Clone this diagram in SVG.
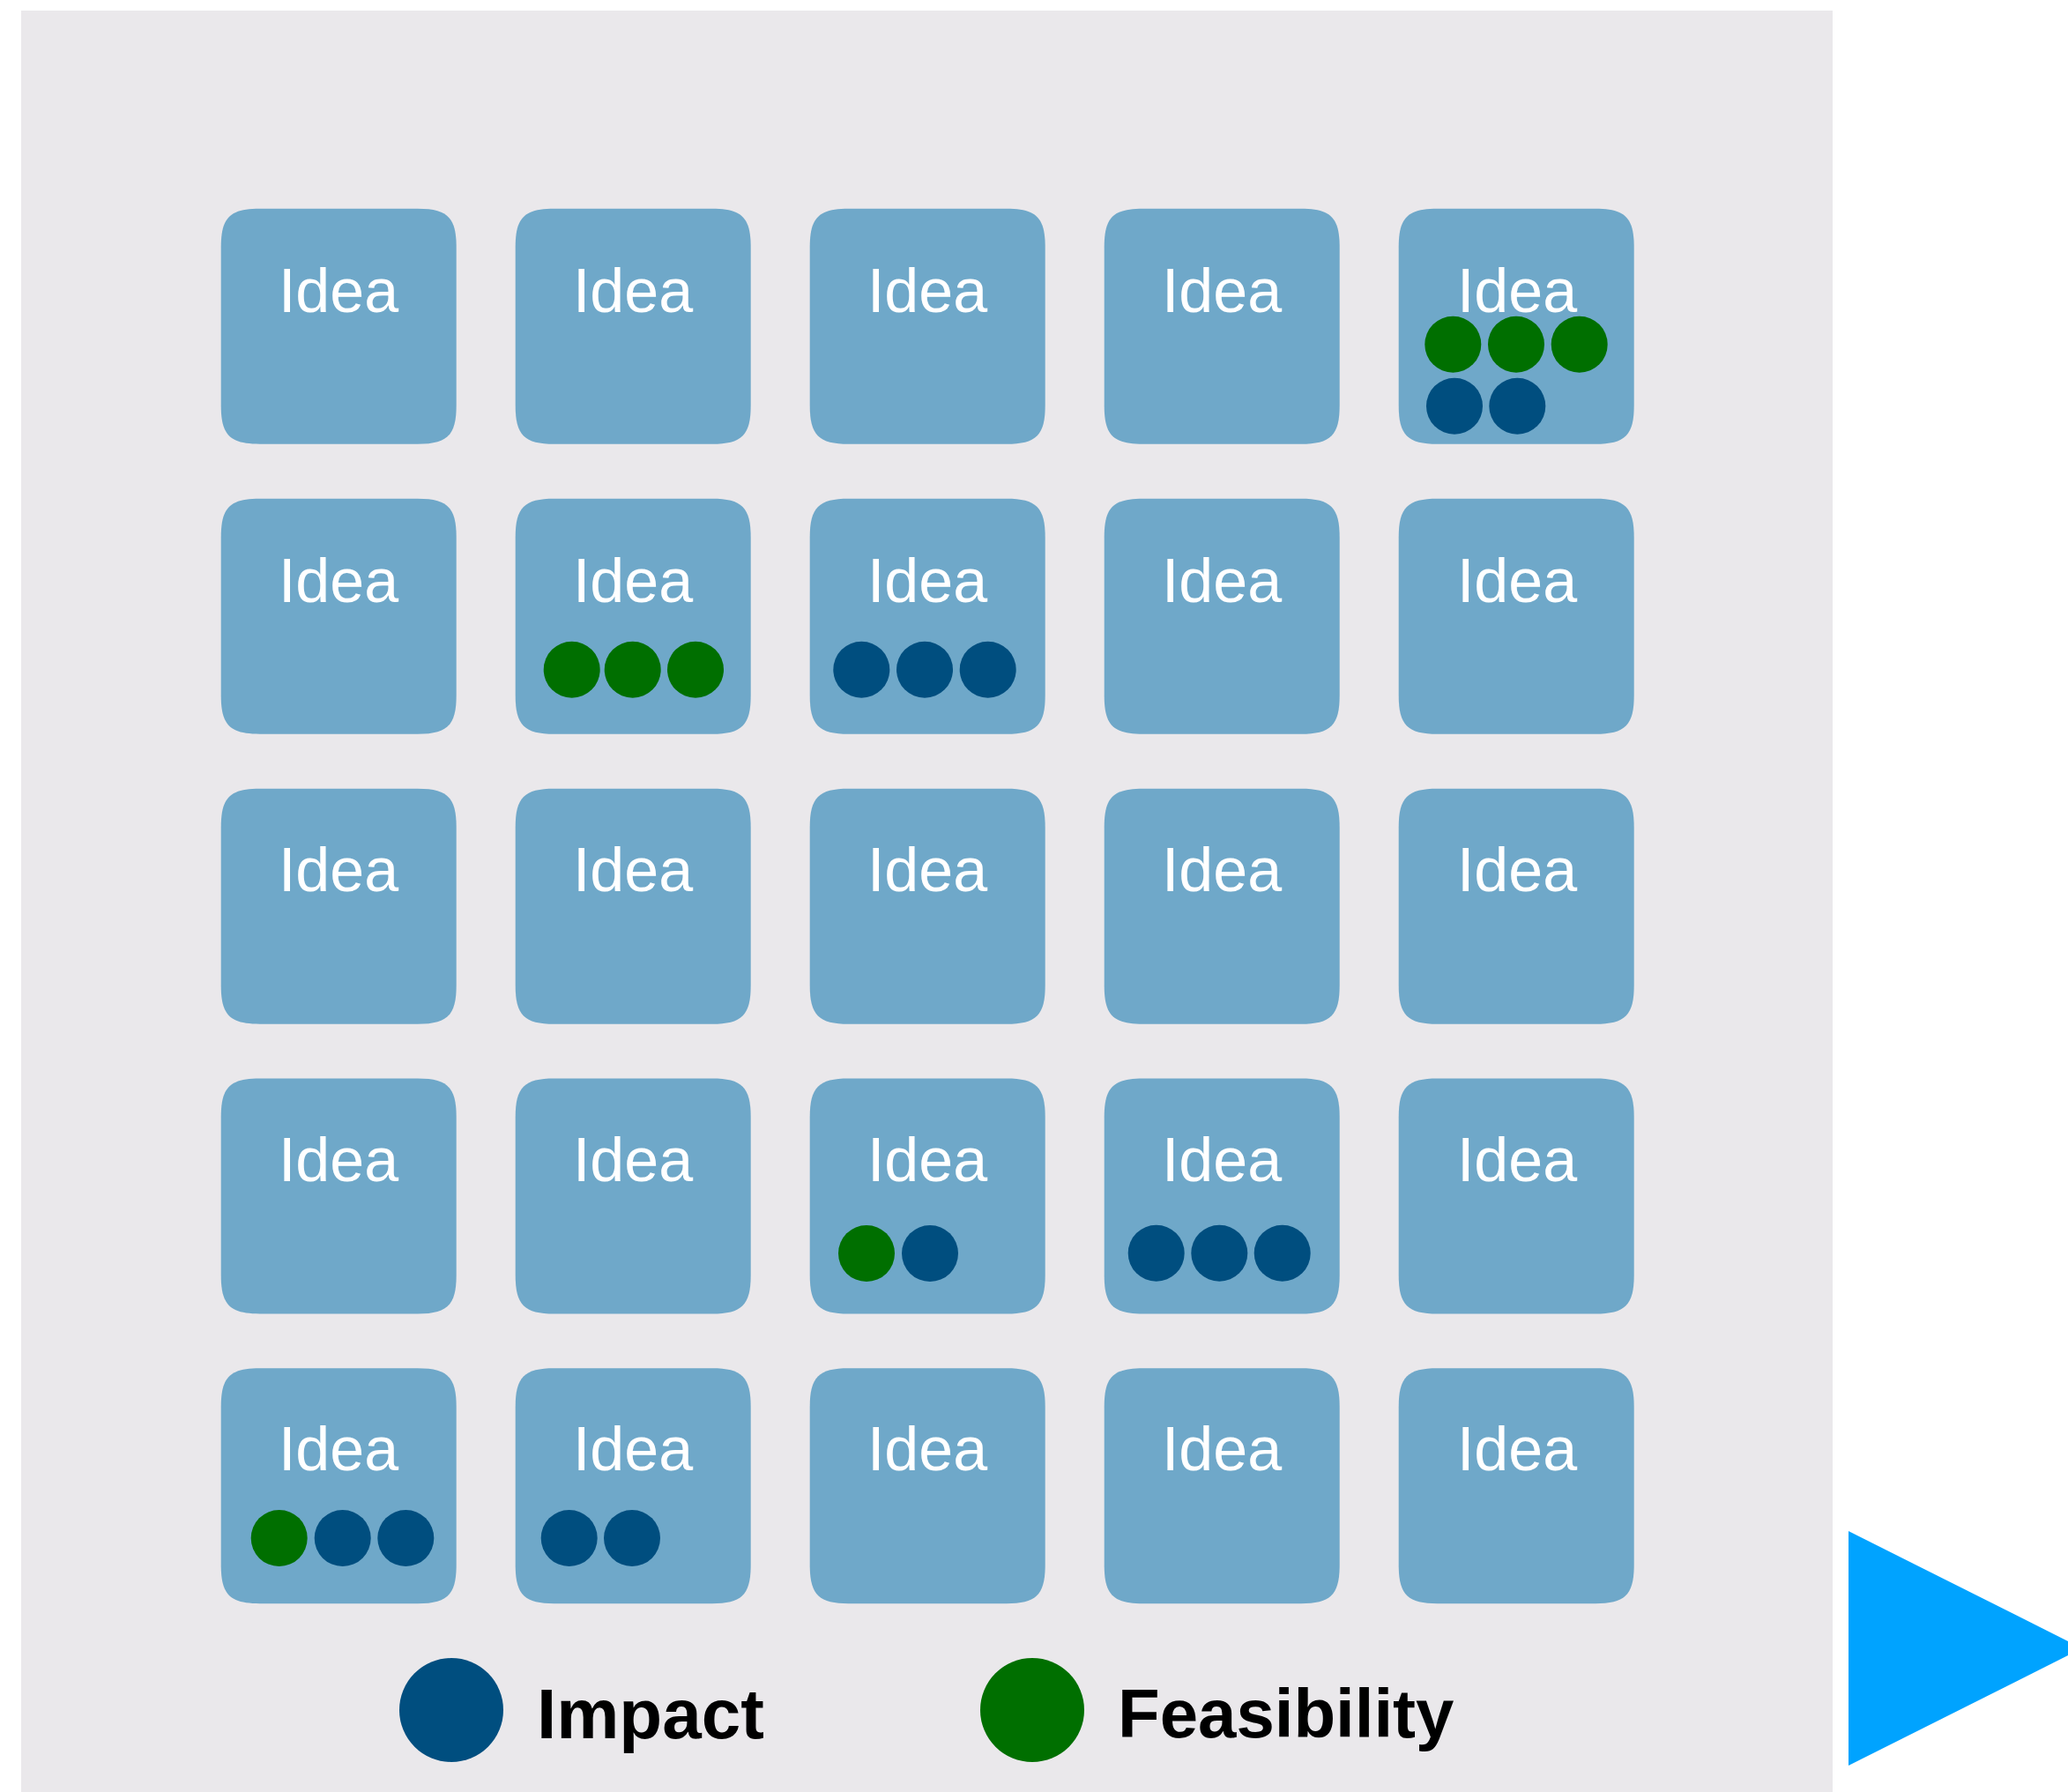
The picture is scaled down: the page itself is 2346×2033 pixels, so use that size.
<svg xmlns="http://www.w3.org/2000/svg" xmlns:xlink="http://www.w3.org/1999/xlink" width="2346" height="2033" viewBox="0 0 2346 2033">
  <style>
    .panel { fill: #EAE8EB; }
    .card { fill: #6FA8C9; }
    .label { font-family: "Liberation Sans", Arial, Helvetica, sans-serif; font-size: 70px; fill: #FFFFFF; text-anchor: middle; }
    .legend { font-family: "Liberation Sans", Arial, Helvetica, sans-serif; font-size: 80px; font-weight: bold; fill: #000000; }
    .impact { fill: #004E7F; }
    .feas { fill: #006F00; }
    .play { fill: #00A3FF; }
  </style>
  <defs>
    <!-- card shape with smooth continuous corners, 267 x 267 -->
    <path id="cardShape" d="M44,0 H223 C257,0 267,10 267,44 V223 C267,257 257,267 223,267 H44 C10,267 0,257 0,223 V44 C0,10 10,0 44,0 Z"/>
  </defs>

  <!-- board -->
  <rect class="panel" x="24" y="12" width="2055" height="2030"/>

  <!-- row 1 -->
  <g id="idea-r1c1"><use xlink:href="#cardShape" href="#cardShape" class="card" x="250.7" y="236.7"/><text class="label" x="384" y="353.5">Idea</text></g>
  <g id="idea-r1c2"><use xlink:href="#cardShape" href="#cardShape" class="card" x="584.7" y="236.7"/><text class="label" x="718" y="353.5">Idea</text></g>
  <g id="idea-r1c3"><use xlink:href="#cardShape" href="#cardShape" class="card" x="918.7" y="236.7"/><text class="label" x="1052" y="353.5">Idea</text></g>
  <g id="idea-r1c4"><use xlink:href="#cardShape" href="#cardShape" class="card" x="1252.7" y="236.7"/><text class="label" x="1386" y="353.5">Idea</text></g>
  <g id="idea-r1c5"><use xlink:href="#cardShape" href="#cardShape" class="card" x="1586.7" y="236.7"/><text class="label" x="1721" y="353.5">Idea</text>
    <circle class="feas" cx="1648.3" cy="390.7" r="32"/>
    <circle class="feas" cx="1720" cy="390.7" r="32"/>
    <circle class="feas" cx="1791.7" cy="390.7" r="32"/>
    <circle class="impact" cx="1650" cy="460.7" r="32"/>
    <circle class="impact" cx="1721.3" cy="460.7" r="32"/>
  </g>

  <!-- row 2 -->
  <g id="idea-r2c1"><use xlink:href="#cardShape" href="#cardShape" class="card" x="250.7" y="565.7"/><text class="label" x="384" y="683">Idea</text></g>
  <g id="idea-r2c2"><use xlink:href="#cardShape" href="#cardShape" class="card" x="584.7" y="565.7"/><text class="label" x="718" y="683">Idea</text>
    <circle class="feas" cx="648.7" cy="759.7" r="32"/>
    <circle class="feas" cx="717.7" cy="759.7" r="32"/>
    <circle class="feas" cx="789" cy="759.7" r="32"/>
  </g>
  <g id="idea-r2c3"><use xlink:href="#cardShape" href="#cardShape" class="card" x="918.7" y="565.7"/><text class="label" x="1052" y="683">Idea</text>
    <circle class="impact" cx="977.3" cy="759.7" r="32"/>
    <circle class="impact" cx="1049" cy="759.7" r="32"/>
    <circle class="impact" cx="1120.7" cy="759.7" r="32"/>
  </g>
  <g id="idea-r2c4"><use xlink:href="#cardShape" href="#cardShape" class="card" x="1252.7" y="565.7"/><text class="label" x="1386" y="683">Idea</text></g>
  <g id="idea-r2c5"><use xlink:href="#cardShape" href="#cardShape" class="card" x="1586.7" y="565.7"/><text class="label" x="1721" y="683">Idea</text></g>

  <!-- row 3 -->
  <g id="idea-r3c1"><use xlink:href="#cardShape" href="#cardShape" class="card" x="250.7" y="894.7"/><text class="label" x="384" y="1011">Idea</text></g>
  <g id="idea-r3c2"><use xlink:href="#cardShape" href="#cardShape" class="card" x="584.7" y="894.7"/><text class="label" x="718" y="1011">Idea</text></g>
  <g id="idea-r3c3"><use xlink:href="#cardShape" href="#cardShape" class="card" x="918.7" y="894.7"/><text class="label" x="1052" y="1011">Idea</text></g>
  <g id="idea-r3c4"><use xlink:href="#cardShape" href="#cardShape" class="card" x="1252.7" y="894.7"/><text class="label" x="1386" y="1011">Idea</text></g>
  <g id="idea-r3c5"><use xlink:href="#cardShape" href="#cardShape" class="card" x="1586.7" y="894.7"/><text class="label" x="1721" y="1011">Idea</text></g>

  <!-- row 4 -->
  <g id="idea-r4c1"><use xlink:href="#cardShape" href="#cardShape" class="card" x="250.7" y="1223.5"/><text class="label" x="384" y="1340">Idea</text></g>
  <g id="idea-r4c2"><use xlink:href="#cardShape" href="#cardShape" class="card" x="584.7" y="1223.5"/><text class="label" x="718" y="1340">Idea</text></g>
  <g id="idea-r4c3"><use xlink:href="#cardShape" href="#cardShape" class="card" x="918.7" y="1223.5"/><text class="label" x="1052" y="1340">Idea</text>
    <circle class="feas" cx="983" cy="1422" r="32"/>
    <circle class="impact" cx="1055" cy="1422" r="32"/>
  </g>
  <g id="idea-r4c4"><use xlink:href="#cardShape" href="#cardShape" class="card" x="1252.7" y="1223.5"/><text class="label" x="1386" y="1340">Idea</text>
    <circle class="impact" cx="1311.7" cy="1421.7" r="32"/>
    <circle class="impact" cx="1383.3" cy="1421.7" r="32"/>
    <circle class="impact" cx="1454.7" cy="1421.7" r="32"/>
  </g>
  <g id="idea-r4c5"><use xlink:href="#cardShape" href="#cardShape" class="card" x="1586.7" y="1223.5"/><text class="label" x="1721" y="1340">Idea</text></g>

  <!-- row 5 -->
  <g id="idea-r5c1"><use xlink:href="#cardShape" href="#cardShape" class="card" x="250.7" y="1552.2"/><text class="label" x="384" y="1667.5">Idea</text>
    <circle class="feas" cx="316.7" cy="1745" r="32"/>
    <circle class="impact" cx="388.7" cy="1745" r="32"/>
    <circle class="impact" cx="460.3" cy="1745" r="32"/>
  </g>
  <g id="idea-r5c2"><use xlink:href="#cardShape" href="#cardShape" class="card" x="584.7" y="1552.2"/><text class="label" x="718" y="1667.5">Idea</text>
    <circle class="impact" cx="645.7" cy="1745" r="32"/>
    <circle class="impact" cx="717" cy="1745" r="32"/>
  </g>
  <g id="idea-r5c3"><use xlink:href="#cardShape" href="#cardShape" class="card" x="918.7" y="1552.2"/><text class="label" x="1052" y="1667.5">Idea</text></g>
  <g id="idea-r5c4"><use xlink:href="#cardShape" href="#cardShape" class="card" x="1252.7" y="1552.2"/><text class="label" x="1386" y="1667.5">Idea</text></g>
  <g id="idea-r5c5"><use xlink:href="#cardShape" href="#cardShape" class="card" x="1586.7" y="1552.2"/><text class="label" x="1721" y="1667.5">Idea</text></g>

  <!-- legend -->
  <g id="legend-impact">
    <circle class="impact" cx="512" cy="1940" r="59"/>
    <text class="legend" x="609" y="1972">Impact</text>
  </g>
  <g id="legend-feasibility">
    <circle class="feas" cx="1171" cy="1940" r="59"/>
    <text class="legend" x="1268" y="1971" style="font-size:78px">Feasibility</text>
  </g>

  <!-- no connectors between cards -->
  <g id="connectors"/>

  <!-- play marker at the right edge -->
  <polygon id="play" class="play" points="2097,1737 2362,1870 2097,2003"/>
</svg>
